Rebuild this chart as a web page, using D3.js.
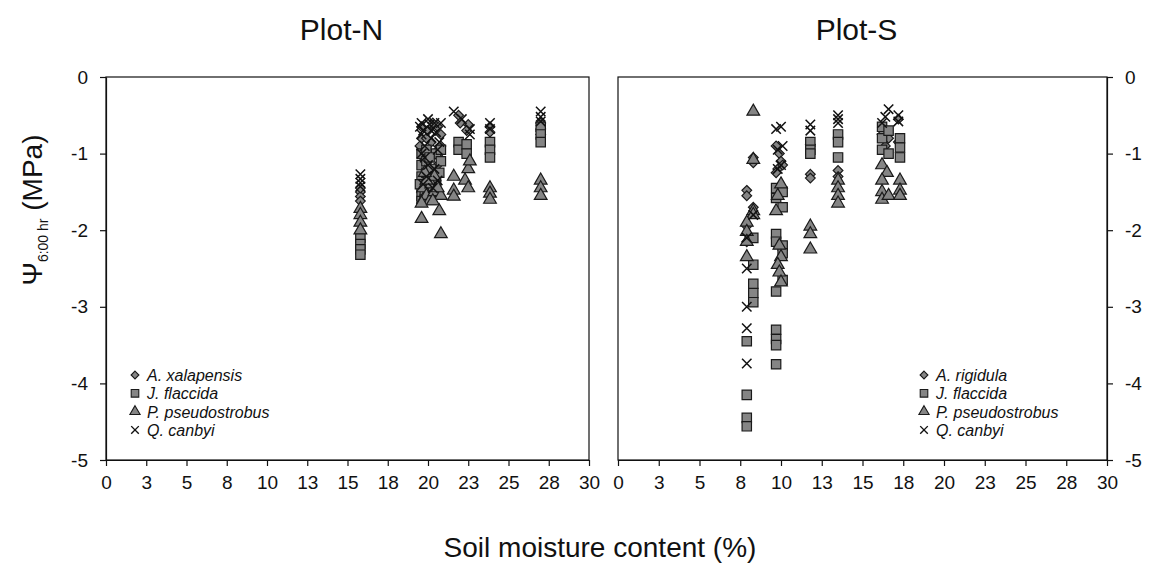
<!DOCTYPE html>
<html>
<head>
<meta charset="utf-8">
<script src="https://cdn.jsdelivr.net/npm/d3@7"></script>
<style>
  body { margin: 0; background: #fff; }
  svg { font-family: "Liberation Sans", Arial, sans-serif; }
</style>
</head>
<body>
<script>
// tick values + labels
const xTicks = [0, 2.5, 5, 7.5, 10, 12.5, 15, 17.5, 20, 22.5, 25, 27.5, 30];
const xTickLabels = ['0', '3', '5', '8', '10', '13', '15', '18', '20', '23', '25', '28', '30'];
const yTicks = [0, -1, -2, -3, -4, -5];

// Plot-N  [soil moisture %, psi MPa]
const nAxal = [[15.8,-1.5],[15.8,-1.56],[15.8,-1.62],[15.8,-1.45],
  [19.6,-0.65],[19.6,-0.8],[19.6,-0.95],[19.8,-1.1],[19.8,-1.2],[20.0,-0.7],[20.2,-0.85],[20.4,-1.0],
  [20.6,-0.65],[20.8,-0.75],[20.8,-0.9],[20.6,-1.15],[19.5,-0.9],[19.7,-1.05],[20.0,-1.3],[20.3,-0.6],
  [20.7,-1.05],[19.9,-0.8],
  [21.9,-0.5],[22.0,-0.6],[22.5,-0.62],[22.4,-0.7],
  [23.85,-0.65],[23.85,-0.72],
  [27.0,-0.6],[27.0,-0.68],[27.0,-0.75]];
const nJfla = [[15.8,-2.1],[15.8,-2.18],[15.8,-2.25],[15.8,-2.32],
  [19.6,-1.0],[19.6,-1.15],[19.6,-1.3],[19.6,-1.45],[19.6,-1.55],[19.6,-1.62],[19.9,-0.95],[19.9,-1.1],
  [19.9,-1.25],[20.2,-1.2],[20.5,-1.0],[20.5,-1.3],[20.5,-1.42],[20.8,-0.95],[20.8,-1.1],
  [19.5,-1.4],[19.8,-1.5],[19.8,-1.6],[20.3,-1.35],[20.3,-1.5],[20.7,-1.25],[20.1,-1.05],
  [21.9,-0.85],[21.9,-0.95],[22.4,-0.88],[22.4,-1.0],
  [23.85,-0.85],[23.85,-0.95],[23.85,-1.05],
  [27.0,-0.65],[27.0,-0.75],[27.0,-0.85]];
const nPpse = [[15.8,-1.72],[15.8,-1.8],[15.8,-1.9],[15.8,-2.0],
  [19.6,-1.85],[19.7,-1.6],[19.7,-1.45],[19.9,-1.55],[20.1,-1.62],[20.2,-1.4],[20.4,-1.5],[20.4,-1.3],
  [20.7,-1.75],[20.8,-2.05],[20.8,-1.55],[19.6,-1.65],[19.9,-1.35],[20.3,-1.62],[20.6,-1.45],[19.8,-1.25],
  [21.6,-1.48],[21.6,-1.56],[21.6,-1.3],[22.3,-1.35],[22.5,-1.2],[22.5,-1.45],[22.6,-1.1],
  [23.85,-1.45],[23.85,-1.52],[23.85,-1.6],
  [27.0,-1.35],[27.0,-1.45],[27.0,-1.55]];
const nQcan = [[15.8,-1.27],[15.8,-1.33],[15.8,-1.38],[15.8,-1.43],
  [19.6,-0.6],[19.6,-0.75],[19.8,-0.9],[19.8,-1.05],[20.0,-0.55],[20.2,-0.7],[20.2,-0.8],[20.4,-0.6],
  [20.6,-0.95],[20.8,-0.6],[19.9,-1.3],[20.3,-1.45],[19.5,-0.65],[19.7,-0.7],[20.1,-0.62],[20.5,-0.72],
  [20.7,-0.85],[19.6,-1.0],[20.0,-1.15],[20.4,-1.2],[19.7,-1.4],[20.6,-1.35],
  [21.6,-0.45],[22.1,-0.55],[22.6,-0.68],[22.6,-0.75],
  [23.85,-0.6],[23.85,-0.68],
  [27.0,-0.45],[27.0,-0.52],[27.0,-0.58]];

// Plot-S
const sArig = [[8.3,-1.05],[8.3,-1.12],[7.9,-1.48],[7.9,-1.55],[8.3,-1.7],[7.9,-1.95],[7.9,-2.15],
  [9.7,-0.9],[9.9,-1.0],[10.0,-1.1],[9.8,-1.2],[9.7,-1.25],[10.1,-1.15],
  [11.8,-0.88],[11.8,-1.27],[11.8,-1.32],
  [13.5,-1.22],[13.5,-1.3],
  [16.2,-0.75],[16.4,-0.9],[16.6,-0.8],[17.2,-0.85],[17.2,-0.55]];
const sJfla = [[8.3,-2.1],[8.3,-2.45],[8.3,-2.7],[8.3,-2.82],[8.3,-2.94],[7.9,-3.45],[7.9,-4.15],[7.9,-4.45],[7.9,-4.56],
  [9.7,-1.45],[9.7,-1.58],[10.1,-1.5],[10.1,-1.7],[9.7,-2.05],[9.7,-2.15],[10.1,-2.2],[10.1,-2.3],[10.1,-2.65],
  [9.7,-2.8],[9.7,-3.3],[9.7,-3.42],[9.7,-3.5],[9.7,-3.75],
  [11.8,-0.85],[11.8,-0.95],[11.8,-1.0],
  [13.5,-0.75],[13.5,-0.85],[13.5,-1.05],
  [16.2,-0.65],[16.2,-0.8],[16.2,-0.95],[16.6,-0.7],[16.6,-1.0],[17.3,-0.8],[17.3,-0.92],[17.3,-1.05]];
const sPpse = [[8.3,-0.45],[8.3,-1.08],[8.3,-1.75],[8.3,-1.8],[7.9,-1.9],[7.9,-2.02],[7.9,-2.15],[7.9,-2.35],
  [10.0,-1.4],[9.8,-1.55],[9.7,-1.75],[9.9,-2.2],[10.0,-2.35],[9.8,-2.45],[9.9,-2.55],[10.0,-2.68],
  [11.8,-1.95],[11.8,-2.05],[11.8,-2.25],
  [13.5,-1.35],[13.5,-1.45],[13.5,-1.55],[13.5,-1.65],
  [16.2,-1.15],[16.5,-1.25],[16.2,-1.35],[16.2,-1.5],[16.2,-1.6],[16.6,-1.55],[17.3,-1.35],[17.3,-1.48],[17.3,-1.55]];
const sQcan = [[8.3,-1.8],[7.9,-2.1],[7.9,-2.5],[7.9,-3.0],[7.9,-3.28],[7.9,-3.74],
  [9.7,-0.68],[10.0,-0.65],[9.8,-0.95],[10.0,-1.15],[9.8,-1.2],[10.1,-0.9],
  [11.8,-0.62],[11.8,-0.7],
  [13.5,-0.5],[13.5,-0.55],[13.5,-0.6],
  [16.2,-0.6],[16.6,-0.42],[16.4,-0.52],[17.2,-0.5],[17.2,-0.58]];

const nNames = ['A. xalapensis', 'J. flaccida', 'P. pseudostrobus', 'Q. canbyi'];
const sNames = ['A. rigidula', 'J. flaccida', 'P. pseudostrobus', 'Q. canbyi'];

const W = 1157, H = 565;
const plotTop = 77, plotBottom = 460;

const svg = d3.select('body').append('svg')
  .attr('width', W)
  .attr('height', H);

const y = d3.scaleLinear().domain([-5, 0]).range([plotBottom, plotTop]);

const shapes = [
  { type: d3.symbolDiamond2, size: 60, fill: '#858585', stroke: '#1a1a1a' },
  { type: d3.symbolSquare, size: 88, fill: '#858585', stroke: '#1a1a1a' },
  { type: d3.symbolTriangle, size: 70, fill: '#858585', stroke: '#1a1a1a' },
  { type: d3.symbolX, size: 60, fill: 'none', stroke: '#111' }
];

function panel(left, right, title, series, names, yside, legendX) {
  const x = d3.scaleLinear().domain([0, 30]).range([left, right]);
  const g = svg.append('g');

  // frame
  g.append('rect')
    .attr('x', left).attr('y', plotTop)
    .attr('width', right - left).attr('height', plotBottom - plotTop)
    .attr('fill', 'none').attr('stroke', '#111').attr('stroke-width', 1.2);

  const xa = g.append('g')
    .attr('transform', 'translate(0,' + plotBottom + ')')
    .call(d3.axisBottom(x).tickValues(xTicks)
      .tickFormat((d, i) => xTickLabels[i]).tickSize(6).tickSizeOuter(0).tickPadding(10));
  xa.selectAll('text').attr('font-size', 19).attr('fill', '#111').attr('font-family', 'Liberation Sans, Arial');

  const yAxis = yside === 'left' ? d3.axisLeft(y) : d3.axisRight(y);
  const ya = g.append('g')
    .attr('transform', 'translate(' + (yside === 'left' ? left : right) + ',0)')
    .call(yAxis.tickValues(yTicks).tickFormat(d => String(d)).tickSize(6).tickSizeOuter(0).tickPadding(12));
  ya.selectAll('text').attr('font-size', 19).attr('fill', '#111').attr('font-family', 'Liberation Sans, Arial');
  g.selectAll('.domain').attr('stroke', '#111').attr('stroke-width', 1.2);
  g.selectAll('.tick line').attr('stroke', '#111').attr('stroke-width', 1.2);

  g.append('text')
    .attr('x', (left + right) / 2 - 6).attr('y', 40)
    .attr('text-anchor', 'middle')
    .attr('font-size', 30)
    .attr('fill', '#111')
    .text(title);

  // points, species drawn in order
  series.forEach((pts, k) => {
    const s = shapes[k];
    g.append('g').selectAll('path')
      .data(pts)
      .join('path')
      .attr('transform', d => 'translate(' + x(d[0]) + ',' + y(d[1]) + ')')
      .attr('d', d3.symbol(s.type, s.size))
      .attr('fill', s.fill)
      .attr('stroke', s.stroke)
      .attr('stroke-width', k === 3 ? 1.5 : 1.2);
  });

  // legend
  const lg = g.append('g').attr('transform', 'translate(' + legendX + ',375)');
  names.forEach((n, k) => {
    const s = shapes[k];
    const row = lg.append('g').attr('transform', 'translate(0,' + k * 18.3 + ')');
    row.append('path')
      .attr('d', d3.symbol(s.type, s.size * 0.65))
      .attr('fill', s.fill)
      .attr('stroke', s.stroke)
      .attr('stroke-width', k === 3 ? 1.4 : 1.1);
    row.append('text')
      .attr('x', 12).attr('y', 6)
      .attr('font-size', 16)
      .attr('font-style', 'italic')
      .attr('fill', '#111')
      .text(n);
  });
}

panel(106, 589, 'Plot-N', [nAxal, nJfla, nPpse, nQcan], nNames, 'left', 135);
panel(618, 1107, 'Plot-S', [sArig, sJfla, sPpse, sQcan], sNames, 'right', 924);

// y title
const yt = svg.append('text')
  .attr('transform', 'translate(42,210) rotate(-90)')
  .attr('text-anchor', 'middle')
  .attr('fill', '#111')
  .attr('font-size', 28);
yt.append('tspan').text('Ψ');
yt.append('tspan').attr('font-size', 14).attr('dy', 6).text('6:00 hr');
yt.append('tspan').attr('dy', -6).text(' (MPa)');

// x title
svg.append('text')
  .attr('x', 600).attr('y', 557)
  .attr('text-anchor', 'middle')
  .attr('font-size', 28)
  .attr('fill', '#111')
  .text('Soil moisture content (%)');
</script>
</body>
</html>
